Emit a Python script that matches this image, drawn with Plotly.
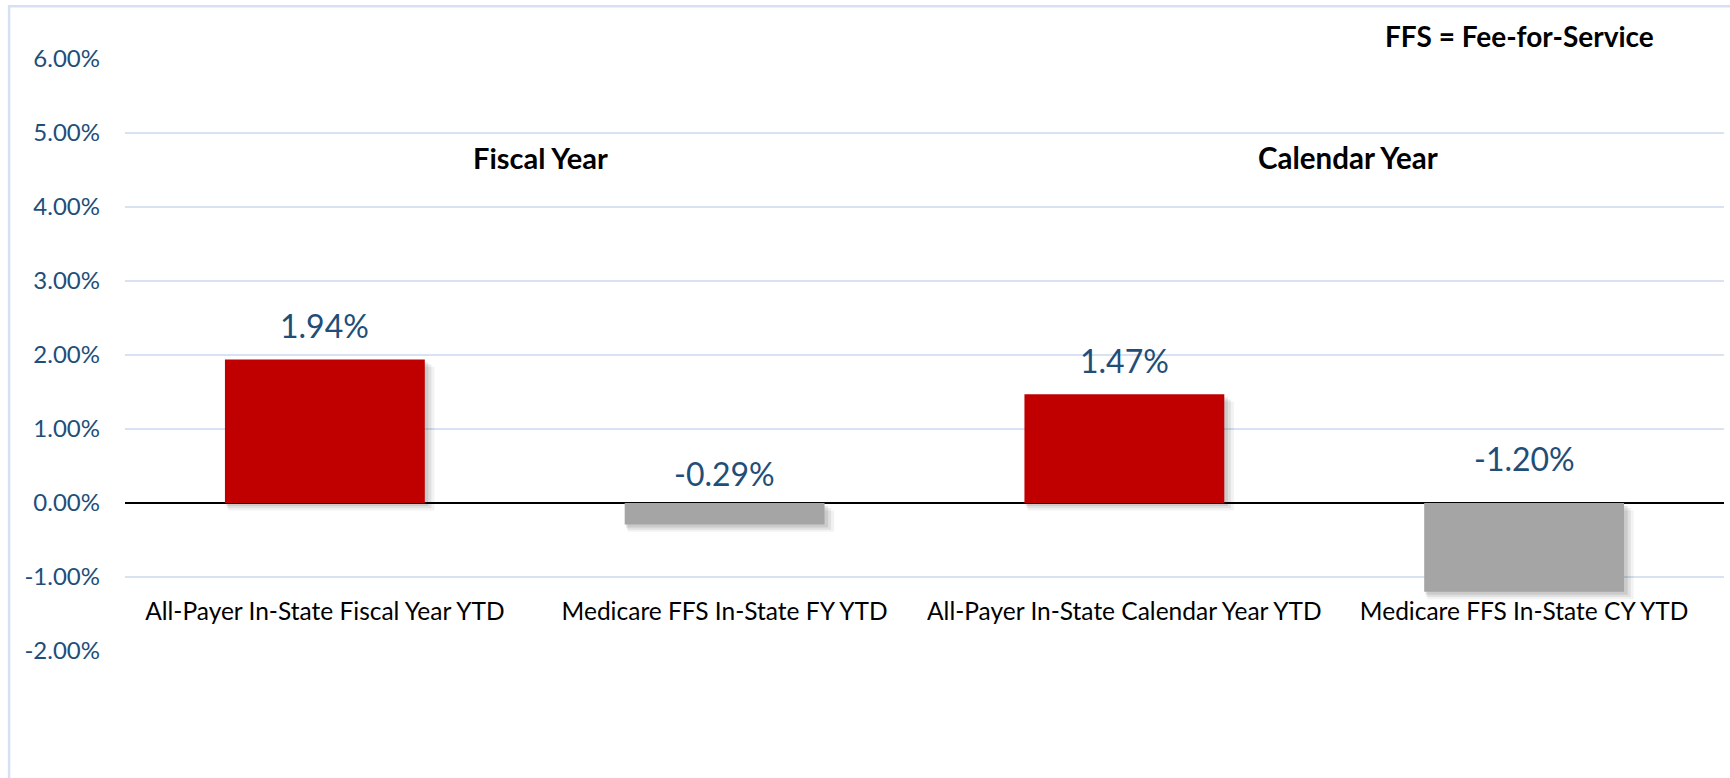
import plotly.graph_objects as go

# Year-to-date growth by payer and reporting period
categories = [
    "All-Payer In-State Fiscal Year YTD",
    "Medicare FFS In-State FY YTD",
    "All-Payer In-State Calendar Year YTD",
    "Medicare FFS In-State CY YTD",
]
growth_pct = [1.94, -0.29, 1.47, -1.20]
bar_colors = ["#C00000", "#A5A5A5", "#C00000", "#A5A5A5"]

y_ticks = [-2, -1, 0, 1, 2, 3, 4, 5, 6]
y_tick_labels = [f"{t:.2f}%" for t in y_ticks]

# pixel lift of each value label above the bar top / zero line
label_lift = [34, 30, 34, 45]

BLUE_TEXT = "#1F4E79"
GRID = "#D9E2F3"
FONT = "Lato"

fig = go.Figure()

# soft drop shadow under each bar (a few stacked translucent layers)
for dy, dx, a in [(0.10, 0.016, 0.05), (0.07, 0.011, 0.07), (0.04, 0.006, 0.09)]:
    fig.add_trace(go.Bar(
        x=categories, y=growth_pct, base=[-dy] * len(growth_pct),
        width=0.5 + dx, offset=-0.25 + dx / 2,
        marker=dict(color=f"rgba(0,0,0,{a})", line=dict(width=0)),
        hoverinfo="skip", showlegend=False,
    ))

fig.add_trace(go.Bar(
    x=categories, y=growth_pct, width=0.5, offset=-0.25,
    marker=dict(color=bar_colors, line=dict(width=0)),
    showlegend=False,
))

for cat, v, lift in zip(categories, growth_pct, label_lift):
    fig.add_annotation(
        x=cat, y=max(v, 0), xref="x", yref="y",
        text=f"{v:.2f}%", showarrow=False, yshift=lift,
        xanchor="center", yanchor="middle",
        font=dict(family=FONT, size=32, color=BLUE_TEXT),
    )

# period headers and abbreviation note
fig.add_annotation(x=0.54, y=0.834, xref="x", yref="paper", text="<b>Fiscal Year</b>",
                   showarrow=False, xanchor="center", yanchor="middle",
                   font=dict(family=FONT, size=29, color="#000000"))
fig.add_annotation(x=2.56, y=0.834, xref="x", yref="paper", text="<b>Calendar Year</b>",
                   showarrow=False, xanchor="center", yanchor="middle",
                   font=dict(family=FONT, size=29.5, color="#000000"))
fig.add_annotation(x=0.872, y=1.039, xref="paper", yref="paper", text="<b>FFS = Fee-for-Service</b>",
                   showarrow=False, xanchor="center", yanchor="middle",
                   font=dict(family=FONT, size=28, color="#000000"))

# chart frame
fig.add_shape(type="rect", xref="paper", yref="paper",
              x0=-0.0725, x1=1.2, y0=-0.5, y1=1.089,
              line=dict(color="#D6E0F2", width=2.5), fillcolor="rgba(0,0,0,0)", layer="below")

fig.update_layout(
    width=1730, height=778,
    margin=dict(l=125, r=6, t=59, b=127),
    paper_bgcolor="white", plot_bgcolor="white",
    barmode="overlay", bargap=0.5,
    font=dict(family=FONT),
    xaxis=dict(
        type="category", anchor="free", position=0.095,
        showline=False, showgrid=False, zeroline=False, ticks="",
        tickfont=dict(family=FONT, size=24.5, color="#000000"),
        range=[-0.5, 3.5], fixedrange=True,
    ),
    yaxis=dict(
        range=[-2, 6], tickvals=y_ticks, ticktext=y_tick_labels,
        showgrid=True, gridcolor=GRID, gridwidth=2,
        zeroline=True, zerolinecolor="#000000", zerolinewidth=2,
        showline=False, ticks="", ticklabelstandoff=24,
        tickfont=dict(family=FONT, size=24, color=BLUE_TEXT),
    ),
)

fig.write_html("out.html")
